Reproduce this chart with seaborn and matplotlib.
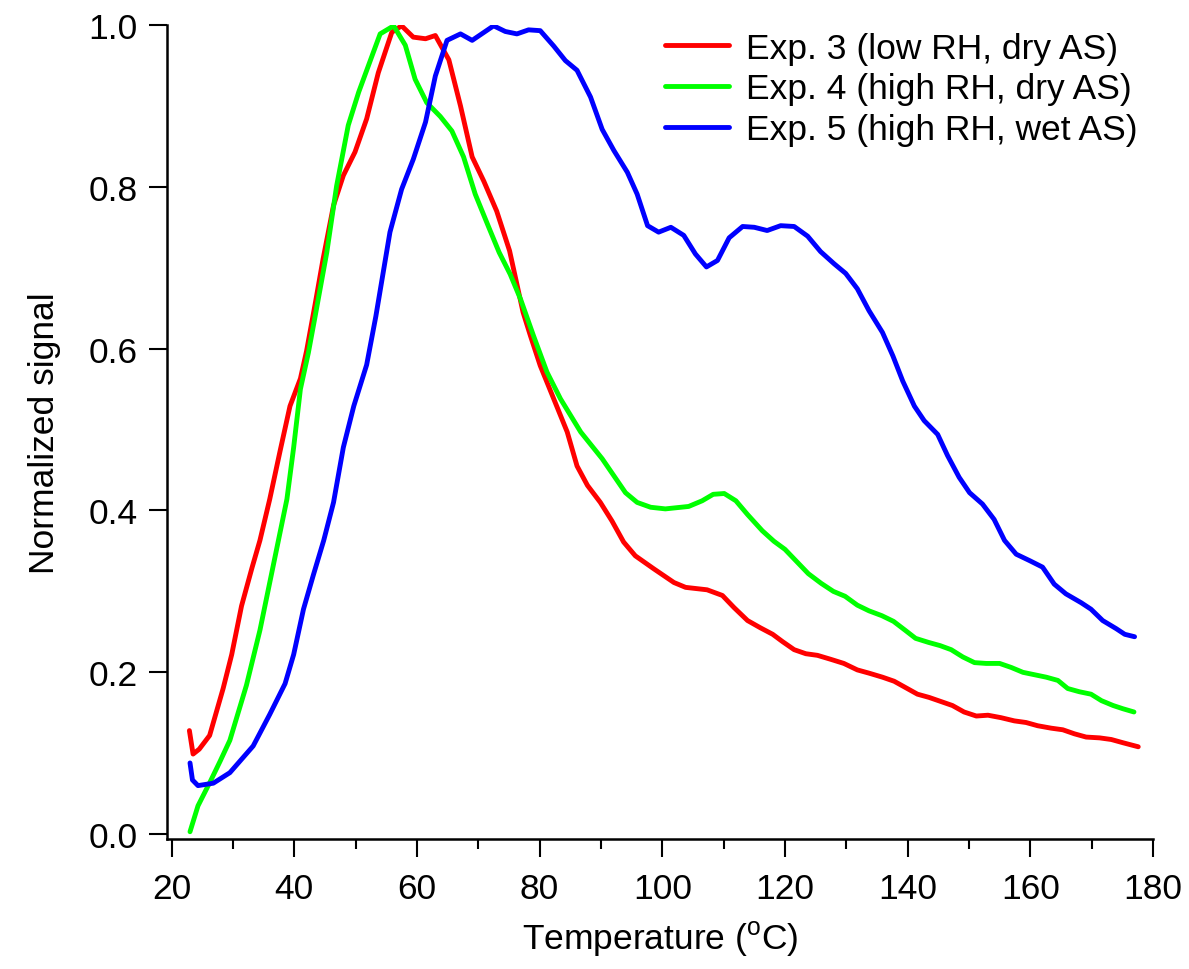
import numpy as np
import pandas as pd
import matplotlib
matplotlib.use("Agg")
import matplotlib.pyplot as plt
from matplotlib.ticker import MultipleLocator
import seaborn as sns

# Exp. 3 (low RH, dry AS)
temp_exp3 = [22.9, 23.5, 24.5, 26.2, 28.4, 29.8, 31.4, 33.1, 34.4, 36.0, 37.7, 39.3, 41.0, 42.0, 43.4,
             44.7, 46.4, 48.0, 49.9, 51.8, 53.7, 55.9, 57.5, 59.4, 61.4, 63.0, 65.2, 67.1, 69.0, 70.9,
             73.0, 75.1, 77.3, 78.5, 80.1, 82.3, 84.5, 86.1, 87.8, 89.9, 91.8, 93.7, 95.6, 98.6, 101.9,
             103.8, 107.3, 109.8, 111.7, 113.9, 116.0, 118.0, 119.6, 121.5, 123.4, 125.3, 127.5, 129.6,
             131.8, 133.7, 135.9, 137.8, 139.7, 141.6, 143.5, 145.4, 147.3, 149.2, 151.2, 153.1, 155.2,
             157.4, 159.3, 161.2, 163.4, 165.3, 167.2, 169.1, 171.3, 173.2, 175.1, 177.6]
sig_exp3 = [0.128, 0.099, 0.105, 0.122, 0.180, 0.222, 0.282, 0.329, 0.363, 0.414, 0.474, 0.529, 0.563, 0.597, 0.655,
            0.711, 0.777, 0.814, 0.843, 0.884, 0.941, 0.991, 0.999, 0.985, 0.983, 0.987, 0.957, 0.900, 0.837, 0.807,
            0.770, 0.721, 0.645, 0.616, 0.579, 0.538, 0.497, 0.455, 0.431, 0.410, 0.387, 0.361, 0.344, 0.328, 0.311,
            0.305, 0.302, 0.295, 0.280, 0.264, 0.255, 0.247, 0.238, 0.228, 0.223, 0.221, 0.216, 0.211,
            0.203, 0.199, 0.194, 0.189, 0.181, 0.173, 0.169, 0.164, 0.159, 0.151, 0.146, 0.147, 0.144,
            0.140, 0.138, 0.134, 0.131, 0.129, 0.124, 0.120, 0.119, 0.117, 0.113, 0.108]

# Exp. 4 (high RH, dry AS)
temp_exp4 = [23.0, 24.3, 26.3, 27.9, 29.5, 32.2, 34.4, 36.6, 38.8, 39.9, 41.0, 42.3, 43.4, 45.3, 46.9,
             48.8, 50.5, 52.1, 54.0, 56.2, 58.1, 59.7, 61.6, 63.8, 65.7, 67.6, 69.5, 71.6, 73.4, 75.2,
             76.9, 79.0, 81.2, 83.4, 86.7, 90.2, 94.0, 95.9, 98.1, 100.5, 104.3, 106.5, 108.3, 110.1, 112.0,
             113.9, 116.3, 118.2, 120.0, 121.9, 123.8, 125.9, 127.9, 129.8, 131.8, 133.7, 135.8, 137.7,
             139.6, 141.3, 143.4, 145.3, 147.1, 149.0, 150.9, 152.8, 155.0, 156.9, 158.8, 160.7, 162.6,
             164.5, 166.1, 168.0, 169.9, 171.6, 173.5, 175.1, 176.9]
sig_exp4 = [0.003, 0.035, 0.065, 0.090, 0.116, 0.184, 0.252, 0.333, 0.414, 0.478, 0.550, 0.595, 0.640, 0.719, 0.801,
            0.876, 0.917, 0.950, 0.989, 0.999, 0.975, 0.933, 0.904, 0.887, 0.869, 0.837, 0.791, 0.752, 0.719, 0.692,
            0.661, 0.616, 0.571, 0.538, 0.497, 0.464, 0.422, 0.410, 0.404, 0.402, 0.405, 0.412, 0.420, 0.421, 0.412,
            0.395, 0.375, 0.362, 0.352, 0.337, 0.322, 0.310, 0.300, 0.294, 0.283, 0.276, 0.270, 0.263,
            0.252, 0.242, 0.237, 0.233, 0.228, 0.219, 0.212, 0.211, 0.211, 0.206, 0.200, 0.197, 0.194,
            0.190, 0.180, 0.176, 0.173, 0.165, 0.159, 0.155, 0.151]

# Exp. 5 (high RH, wet AS)
temp_exp5 = [23.0, 23.4, 24.3, 26.8, 29.5, 33.3, 36.0, 38.5, 39.9, 41.5, 43.1, 44.8, 46.4, 48.0, 49.7,
             51.8, 53.3, 55.6, 57.5, 59.4, 61.4, 63.0, 64.9, 67.1, 69.0, 72.5, 74.4, 76.3, 78.2, 80.1,
             82.3, 84.2, 86.1, 88.3, 90.2, 92.1, 94.3, 95.9, 97.6, 99.4, 101.4, 103.5, 105.4, 107.2, 109.0,
             110.9, 113.1, 115.0, 117.1, 119.3, 121.5, 123.7, 125.8, 128.0, 129.9, 131.8, 133.7, 135.9,
             137.6, 139.2, 141.1, 142.7, 144.9, 146.5, 148.4, 150.1, 152.2, 154.1, 155.8, 157.7, 159.9,
             162.0, 163.9, 165.8, 168.3, 169.9, 171.8, 174.0, 175.4, 177.0]
sig_exp5 = [0.088, 0.067, 0.060, 0.063, 0.076, 0.109, 0.148, 0.186, 0.222, 0.278, 0.320, 0.363, 0.410, 0.478, 0.529,
            0.580, 0.640, 0.744, 0.797, 0.834, 0.880, 0.937, 0.981, 0.989, 0.981, 0.999, 0.992, 0.989, 0.994, 0.993,
            0.974, 0.956, 0.944, 0.911, 0.871, 0.845, 0.818, 0.791, 0.752, 0.744, 0.750, 0.740, 0.717, 0.701, 0.709,
            0.737, 0.751, 0.750, 0.746, 0.752, 0.751, 0.739, 0.720, 0.705, 0.693, 0.674, 0.647, 0.620,
            0.591, 0.560, 0.529, 0.511, 0.494, 0.468, 0.441, 0.422, 0.408, 0.389, 0.363, 0.346, 0.338,
            0.330, 0.309, 0.297, 0.286, 0.278, 0.264, 0.254, 0.247, 0.244]

labels = ["Exp. 3 (low RH, dry AS)", "Exp. 4 (high RH, dry AS)", "Exp. 5 (high RH, wet AS)"]
colors = ["#ff0000", "#00ff00", "#0000ff"]

df = pd.concat([
    pd.DataFrame({"T": temp_exp3, "signal": sig_exp3, "exp": labels[0]}),
    pd.DataFrame({"T": temp_exp4, "signal": sig_exp4, "exp": labels[1]}),
    pd.DataFrame({"T": temp_exp5, "signal": sig_exp5, "exp": labels[2]}),
], ignore_index=True)

sns.set_theme(style="ticks")
plt.rcParams["font.family"] = ["Liberation Sans", "DejaVu Sans"]
plt.rcParams["mathtext.fontset"] = "custom"
plt.rcParams["mathtext.rm"] = "Liberation Sans"
plt.rcParams["text.color"] = "black"
plt.rcParams["axes.labelcolor"] = "black"
plt.rcParams["xtick.color"] = "black"
plt.rcParams["ytick.color"] = "black"

fs = 25.5

fig = plt.figure(figsize=(11.89, 9.70), dpi=100)
ax = fig.add_axes([0.1402, 0.134, 0.8295, 0.8392])

sns.lineplot(data=df, x="T", y="signal", hue="exp", palette=dict(zip(labels, colors)),
             estimator=None, sort=False, linewidth=3.5, ax=ax)

ax.set_xlim(19.2, 180)
ax.set_ylim(-0.006, 1.0)
ax.xaxis.set_major_locator(MultipleLocator(20))
ax.xaxis.set_minor_locator(MultipleLocator(10))
ax.yaxis.set_major_locator(MultipleLocator(0.2))
ax.yaxis.set_major_formatter(matplotlib.ticker.FormatStrFormatter("%.1f"))

for s in ["top", "right"]:
    ax.spines[s].set_visible(False)
for s in ["left", "bottom"]:
    ax.spines[s].set_linewidth(1.8)
    ax.spines[s].set_color("black")

ax.tick_params(axis="both", which="major", direction="out", length=13, width=1.5,
               labelsize=fs, pad=8)
ax.tick_params(axis="x", which="minor", direction="out", length=7, width=1.5)
ax.tick_params(axis="x", which="major", pad=11)

ax.set_xlabel(r"Temperature ($\mathregular{^o}$C)", fontsize=fs, labelpad=10)
ax.set_ylabel("Normalized signal", fontsize=fs, labelpad=20)

ax.legend(loc="upper right", bbox_to_anchor=(0.969, 0.981), bbox_transform=fig.transFigure,
          frameon=False, fontsize=fs, handlelength=1.8, handletextpad=0.5,
          labelspacing=0.22, borderaxespad=0)

fig.savefig("out.png", dpi=100)
